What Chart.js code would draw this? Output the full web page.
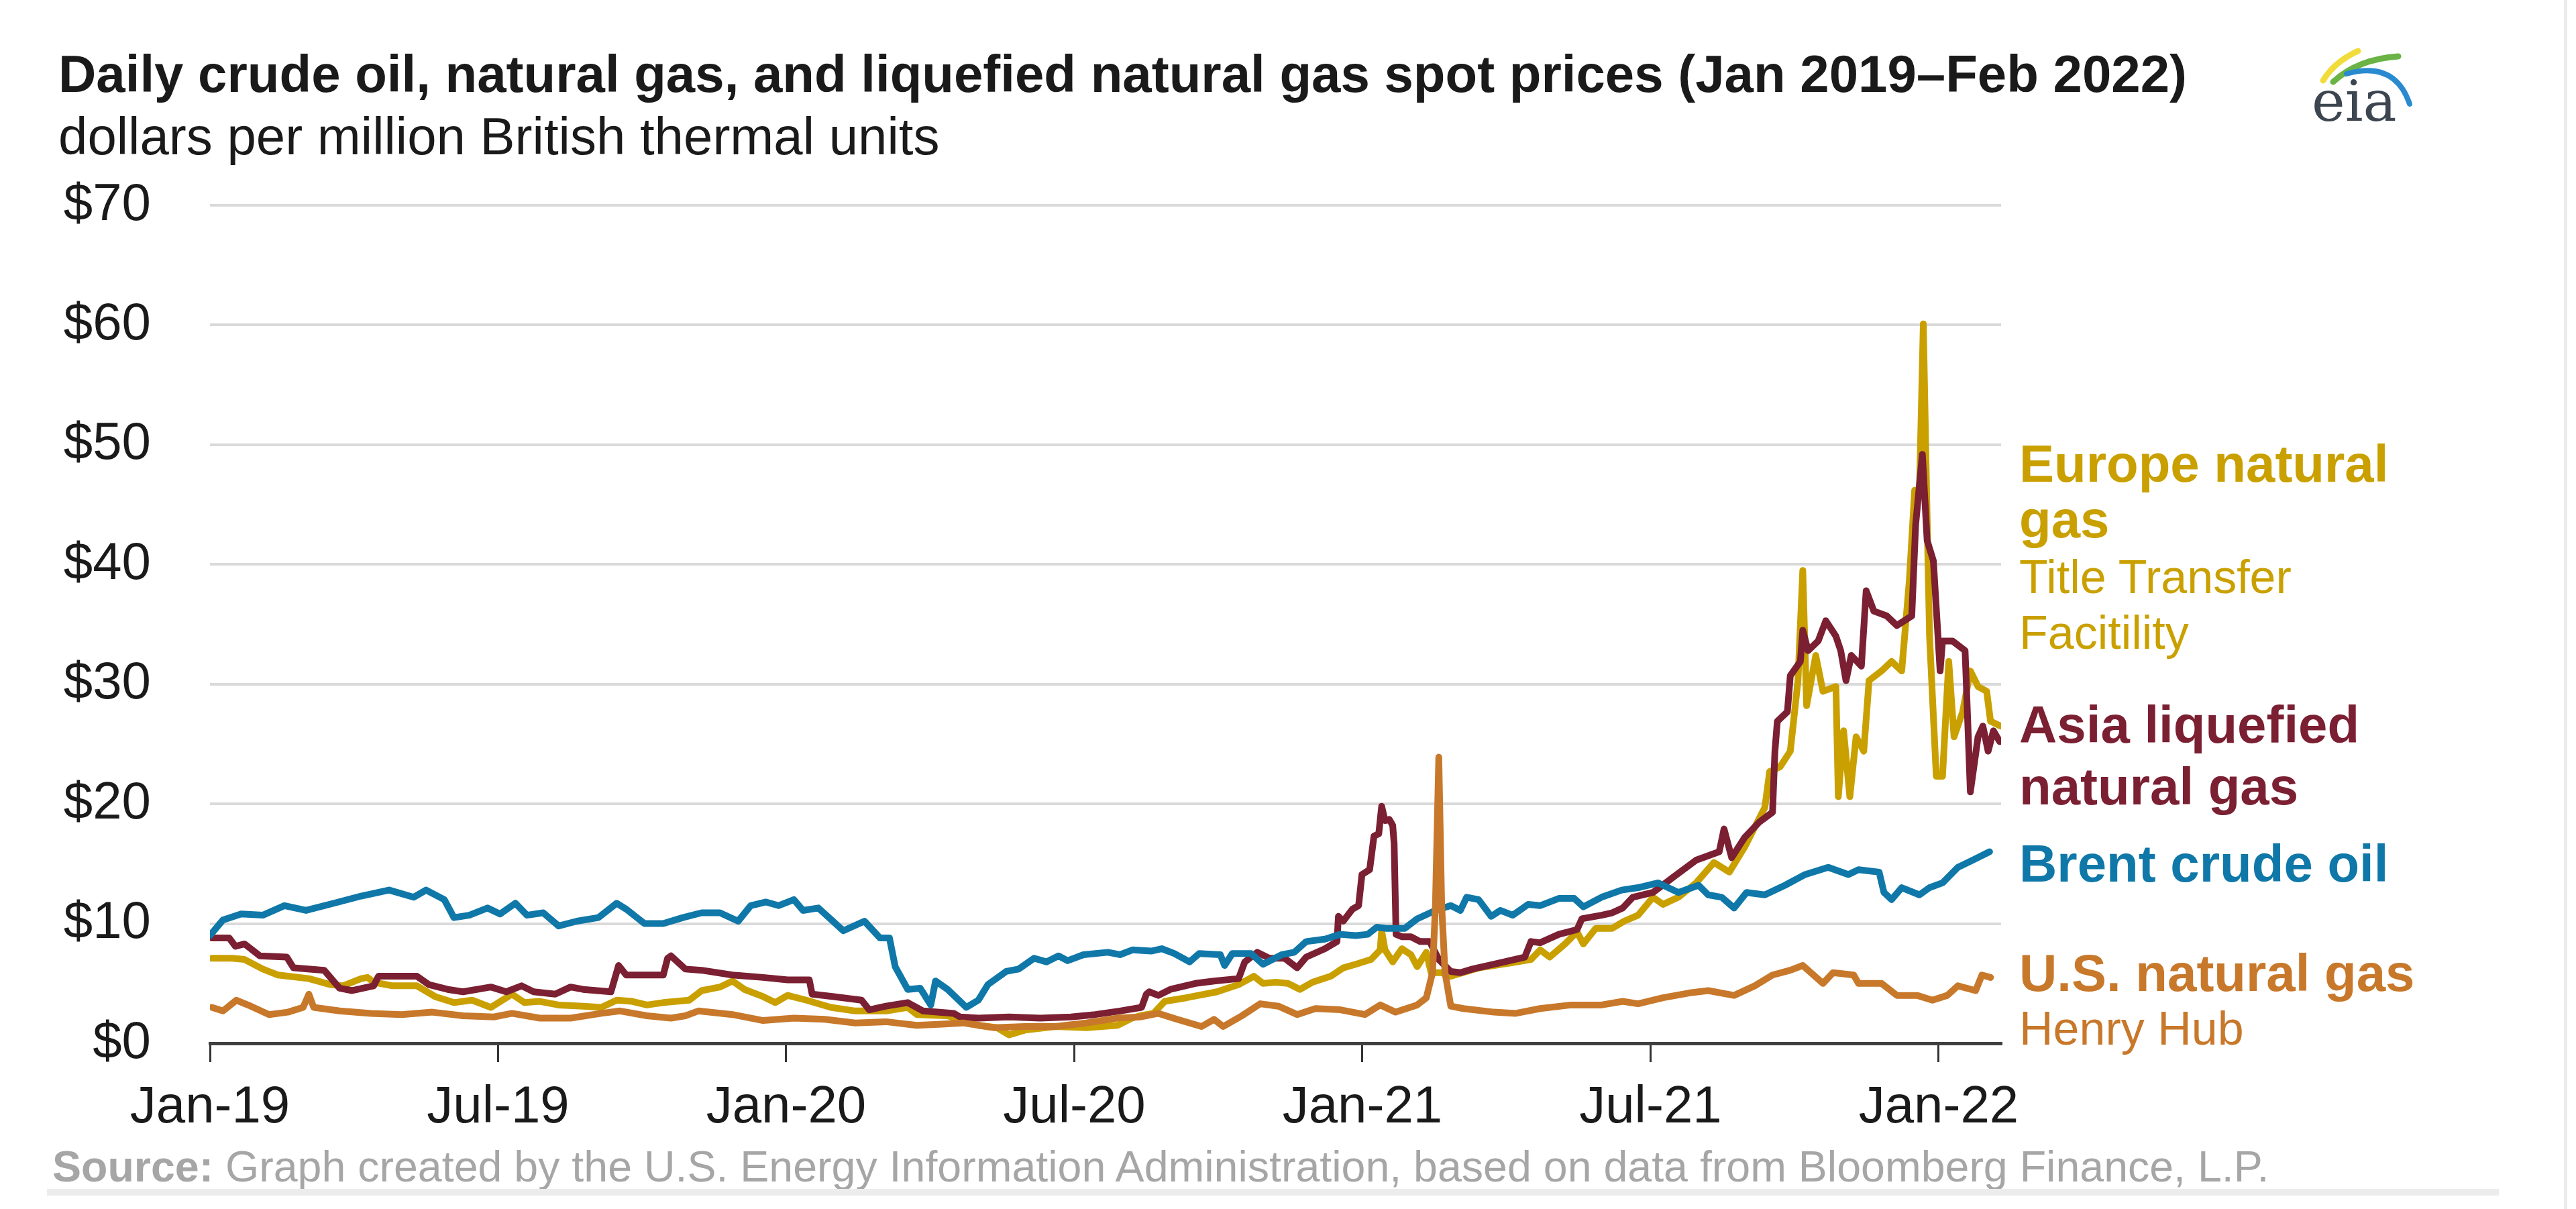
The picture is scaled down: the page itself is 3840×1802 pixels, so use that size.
<!DOCTYPE html>
<html>
<head>
<meta charset="utf-8">
<title>Daily crude oil, natural gas, and LNG spot prices</title>
<script src="https://cdn.jsdelivr.net/npm/chart.js@4.4.1/dist/chart.umd.min.js"></script>
<style>
    html, body { margin: 0; padding: 0; background: #fff; }
    body {
        width: 3840px; height: 1802px; position: relative; overflow: hidden;
        font-family: "Liberation Sans", Arial, sans-serif;
    }
    #chart { position: absolute; left: 0; top: 0; }
    .t { position: absolute; white-space: nowrap; line-height: 1; }
    .big { font-size: 78px; font-weight: bold; }
    .small { font-size: 70px; }
    .europe { color: #c9a000; }
    .asia { color: #7b1f32; }
    .brent { color: #0f78a8; }
    .us { color: #c8782a; }
</style>
</head>
<body>
<canvas id="chart" width="3840" height="1802"></canvas>

<div class="t" style="left:87px; top:71px; font-size:78px; font-weight:bold; color:#1a1a1a;">Daily crude oil, natural gas, and liquefied natural gas spot prices (Jan 2019–Feb 2022)</div>
<div class="t" style="left:87px; top:164px; font-size:78px; color:#1a1a1a;">dollars per million British thermal units</div>

<div class="t big europe" style="left:3010px; top:652px;">Europe natural</div>
<div class="t big europe" style="left:3010px; top:735px;">gas</div>
<div class="t small europe" style="left:3010px; top:825px;">Title Transfer</div>
<div class="t small europe" style="left:3010px; top:908px;">Facitility</div>
<div class="t big asia" style="left:3010px; top:1041px;">Asia liquefied</div>
<div class="t big asia" style="left:3010px; top:1133px;">natural gas</div>
<div class="t big brent" style="left:3010px; top:1248px;">Brent crude oil</div>
<div class="t big us" style="left:3010px; top:1411px;">U.S. natural gas</div>
<div class="t small us" style="left:3010px; top:1498px;">Henry Hub</div>

<div class="t" style="left:78px; top:1707px; font-size:64.5px; color:#a6a6a6;"><b>Source:</b> Graph created by the U.S. Energy Information Administration, based on data from Bloomberg Finance, L.P.</div>
<div style="position:absolute; left:70px; top:1772px; width:3655px; height:10px; background:#ececec;"></div>
<div style="position:absolute; left:3822px; top:0; width:5px; height:1802px; background:#ececec;"></div>

<svg style="position:absolute; left:3420px; top:50px;" width="200" height="150">
    <path d="M43 70 Q60 42 95 26" stroke="#f2dc3c" stroke-width="9" fill="none" stroke-linecap="round"/>
    <path d="M58 72 Q95 38 155 34" stroke="#6ab344" stroke-width="9" fill="none" stroke-linecap="round"/>
    <path d="M78 60 Q150 40 172 105" stroke="#2a8ad0" stroke-width="8" fill="none" stroke-linecap="round"/>
    <text x="26" y="130" font-family="DejaVu Serif, serif" font-size="84" fill="#3d4650">eia</text>
</svg>

<script>
// x values are months since Jan 2019 (0 = Jan-19, 36 = Jan-22)
const tickMonths = [0, 6, 12, 18, 24, 30, 36];
const tickLabels = ['Jan-19', 'Jul-19', 'Jan-20', 'Jul-20', 'Jan-21', 'Jul-21', 'Jan-22'];
const priceTicks = [0, 10, 20, 30, 40, 50, 60, 70];

// Brent crude oil
const brentMonths = [0, 0.27, 0.65, 1.1, 1.55, 2.0, 2.58, 3.15, 3.73, 4.24, 4.5, 4.88, 5.08, 5.4, 5.78, 6.04, 6.36, 6.6, 6.94, 7.26,
    7.64, 8.09, 8.47, 8.67, 9.05, 9.44, 9.85, 10.24, 10.62, 11.0, 11.26, 11.58, 11.84, 12.16, 12.35, 12.67, 13.19, 13.63, 13.95, 14.15,
    14.27, 14.53, 14.79, 15.01, 15.11, 15.36, 15.75, 16.0, 16.2, 16.58, 16.84, 17.16, 17.42, 17.67, 17.86, 18.19, 18.7, 18.95, 19.21, 19.6,
    19.82, 20.08, 20.4, 20.6, 21.04, 21.13, 21.29, 21.68, 21.93, 22.32, 22.58, 22.83, 23.22, 23.54, 23.86, 24.11, 24.3, 24.5, 24.88, 25.14,
    25.52, 25.84, 26.04, 26.17, 26.42, 26.68, 26.87, 27.13, 27.45, 27.7, 28.09, 28.41, 28.6, 28.98, 29.4, 29.74, 30.16, 30.58, 31.0, 31.2,
    31.48, 31.74, 32.0, 32.38, 32.8, 33.22, 33.7, 34.12, 34.33, 34.76, 34.86, 35.02, 35.23, 35.6, 35.81, 36.08, 36.4, 36.71, 37.06];
const brentPrices = [9.0, 10.3, 10.8, 10.7, 11.5, 11.1, 11.7, 12.3, 12.8, 12.2, 12.8, 12.0, 10.5, 10.7, 11.3, 10.8, 11.7, 10.7, 10.9, 9.8,
    10.2, 10.5, 11.7, 11.2, 10.0, 10.0, 10.5, 10.9, 10.9, 10.2, 11.5, 11.8, 11.5, 12.0, 11.1, 11.3, 9.4, 10.2, 8.8, 8.8,
    6.4, 4.5, 4.6, 3.2, 5.2, 4.5, 3.0, 3.6, 4.9, 6.0, 6.2, 7.1, 6.8, 7.3, 6.9, 7.4, 7.6, 7.4, 7.8, 7.7,
    7.9, 7.5, 6.8, 7.5, 7.4, 6.5, 7.5, 7.5, 6.6, 7.4, 7.6, 8.5, 8.7, 9.1, 9.0, 9.1, 9.7, 9.6, 9.6, 10.4,
    11.1, 11.5, 11.1, 12.2, 12.0, 10.6, 11.1, 10.7, 11.6, 11.5, 12.1, 12.1, 11.4, 12.2, 12.8, 13.0, 13.4, 12.6, 13.2, 12.4,
    12.2, 11.3, 12.6, 12.4, 13.2, 14.1, 14.7, 14.1, 14.5, 14.3, 12.6, 12.0, 13.0, 12.4, 13.0, 13.4, 14.7, 15.3, 16.0];

// Asia liquefied natural gas
const asiaMonths = [0.04, 0.4, 0.53, 0.72, 1.04, 1.6, 1.74, 2.38, 2.7, 2.96, 3.41, 3.51, 4.31, 4.56, 4.95, 5.27, 5.85, 6.17, 6.49, 6.74,
    7.19, 7.51, 7.77, 8.35, 8.51, 8.67, 9.44, 9.53, 9.6, 9.9, 10.24, 10.88, 11.52, 12.03, 12.48, 12.54, 12.99, 13.57, 13.73, 14.08,
    14.53, 14.85, 15.49, 15.62, 16.0, 16.64, 17.29, 17.93, 18.44, 18.95, 19.4, 19.5, 19.56, 19.75, 20.0, 20.52, 20.91, 21.42, 21.55, 21.81,
    22.06, 22.38, 22.64, 22.83, 23.22, 23.47, 23.5, 23.6, 23.79, 23.92, 23.99, 24.15, 24.24, 24.34, 24.4, 24.47, 24.56, 24.63, 24.66, 24.7,
    24.82, 25.01, 25.2, 25.4, 25.59, 25.84, 26.04, 26.29, 26.74, 27.38, 27.51, 27.7, 28.09, 28.47, 28.57, 28.98, 29.2, 29.42, 29.63, 30.05,
    30.48, 30.95, 31.43, 31.53, 31.69, 31.96, 32.27, 32.54, 32.59, 32.64, 32.85, 32.91, 33.12, 33.17, 33.28, 33.49, 33.65, 33.86, 33.96, 34.07,
    34.18, 34.39, 34.49, 34.65, 34.92, 35.13, 35.44, 35.52, 35.66, 35.76, 35.89, 36.03, 36.08, 36.29, 36.55, 36.66, 36.82, 36.92, 37.03, 37.14,
    37.27];
const asiaPrices = [8.8, 8.8, 8.1, 8.3, 7.3, 7.2, 6.3, 6.1, 4.6, 4.4, 4.8, 5.6, 5.6, 4.9, 4.5, 4.3, 4.7, 4.3, 4.8, 4.3,
    4.1, 4.7, 4.5, 4.3, 6.5, 5.7, 5.7, 7.1, 7.3, 6.2, 6.1, 5.7, 5.5, 5.3, 5.3, 4.1, 3.9, 3.6, 2.8, 3.1,
    3.4, 2.7, 2.5, 2.2, 2.1, 2.2, 2.1, 2.2, 2.4, 2.7, 3.0, 4.1, 4.3, 4.0, 4.5, 5.0, 5.2, 5.4, 6.8, 7.6,
    7.1, 7.1, 6.3, 7.2, 7.9, 8.5, 10.6, 10.2, 11.2, 11.5, 14.1, 14.5, 17.3, 17.5, 19.8, 18.6, 18.7, 18.2, 16.7, 9.1,
    8.9, 8.9, 8.5, 8.5, 7.0, 6.0, 5.9, 6.2, 6.6, 7.2, 8.5, 8.4, 9.1, 9.5, 10.4, 10.7, 10.9, 11.3, 12.2, 12.6,
    13.9, 15.3, 16.0, 17.9, 15.5, 17.2, 18.5, 19.3, 24.4, 26.9, 27.7, 30.7, 31.9, 34.5, 32.8, 33.6, 35.3, 34.0, 32.8, 30.3,
    32.4, 31.5, 37.8, 36.1, 35.7, 34.9, 35.7, 43.3, 49.2, 42.0, 40.3, 31.1, 33.6, 33.6, 32.8, 21.0, 25.6, 26.5, 24.4, 26.1,
    25.2];

// Europe natural gas (Title Transfer Facility)
const europeMonths = [0.04, 0.46, 0.72, 1.1, 1.42, 2.06, 2.51, 2.77, 3.15, 3.28, 3.41, 3.8, 4.31, 4.69, 5.08, 5.46, 5.85, 6.29, 6.55, 6.87,
    7.26, 7.77, 8.15, 8.47, 8.79, 9.1, 9.44, 9.98, 10.24, 10.62, 10.88, 11.13, 11.52, 11.77, 12.03, 12.42, 12.93, 13.44, 14.08, 14.53,
    14.72, 15.36, 16.0, 16.39, 16.64, 16.97, 17.61, 18.25, 18.9, 19.2, 19.37, 19.65, 19.88, 20.33, 20.97, 21.42, 21.74, 21.93, 22.19, 22.45,
    22.7, 22.96, 23.34, 23.6, 23.86, 24.18, 24.37, 24.4, 24.47, 24.63, 24.82, 25.01, 25.14, 25.33, 25.43, 25.65, 25.84, 26.42, 27.06, 27.51,
    27.7, 27.9, 28.22, 28.47, 28.6, 28.86, 29.2, 29.45, 29.74, 30.05, 30.26, 30.58, 30.95, 31.32, 31.64, 31.96, 32.38, 32.48, 32.7, 32.91,
    33.07, 33.17, 33.25, 33.44, 33.59, 33.86, 33.91, 34.02, 34.15, 34.28, 34.44, 34.55, 34.81, 35.02, 35.23, 35.39, 35.5, 35.6, 35.68, 35.76,
    35.81, 35.95, 36.08, 36.21, 36.32, 36.5, 36.66, 36.82, 37.0, 37.08, 37.29];
const europePrices = [7.1, 7.1, 7.0, 6.2, 5.7, 5.4, 4.9, 4.8, 5.4, 5.5, 5.1, 4.8, 4.8, 3.9, 3.4, 3.6, 3.0, 4.1, 3.4, 3.5,
    3.2, 3.1, 3.0, 3.6, 3.5, 3.2, 3.4, 3.6, 4.4, 4.7, 5.2, 4.5, 3.9, 3.4, 4.0, 3.6, 3.0, 2.7, 2.7, 3.0,
    2.4, 2.3, 1.5, 1.3, 0.7, 1.1, 1.4, 1.3, 1.5, 2.1, 2.3, 2.5, 3.5, 3.8, 4.3, 4.9, 5.6, 5.0, 5.1, 5.0,
    4.5, 5.1, 5.6, 6.3, 6.6, 7.0, 7.8, 9.4, 7.8, 6.8, 7.9, 7.4, 6.4, 7.6, 5.9, 5.9, 5.6, 6.3, 6.7, 7.0,
    7.8, 7.2, 8.3, 9.3, 8.3, 9.6, 9.6, 10.2, 10.7, 12.2, 11.6, 12.2, 13.4, 15.1, 14.3, 16.4, 19.7, 22.7, 23.1, 24.4,
    30.3, 39.5, 28.2, 32.4, 29.4, 29.8, 20.6, 26.1, 20.6, 25.6, 24.4, 30.3, 31.1, 31.9, 31.1, 38.7, 46.2, 46.2, 60.1, 43.7,
    34.0, 22.3, 22.3, 31.9, 25.6, 27.7, 31.1, 29.8, 29.4, 26.9, 26.5];

// U.S. natural gas (Henry Hub)
const usMonths = [0.04, 0.27, 0.55, 0.85, 1.23, 1.62, 1.94, 2.06, 2.16, 2.7, 3.35, 3.99, 4.63, 5.27, 5.91, 6.29, 6.87, 7.51, 8.15, 8.54,
    9.1, 9.6, 9.9, 10.17, 10.88, 11.52, 12.16, 12.8, 13.44, 14.08, 14.72, 15.24, 15.68, 16.33, 16.97, 17.61, 18.25, 18.9, 19.37, 19.75,
    20.14, 20.65, 20.91, 21.1, 21.49, 21.87, 22.25, 22.64, 23.02, 23.54, 24.05, 24.37, 24.69, 25.14, 25.33, 25.46, 25.52, 25.59, 25.65, 25.72,
    25.84, 26.1, 26.74, 27.19, 27.7, 28.34, 28.98, 29.42, 29.74, 30.26, 30.8, 31.2, 31.74, 32.17, 32.54, 32.91, 33.17, 33.59, 33.8, 34.23,
    34.33, 34.81, 35.13, 35.55, 35.87, 36.18, 36.4, 36.77, 36.9, 37.08];
const usPrices = [3.0, 2.7, 3.6, 3.1, 2.4, 2.6, 3.0, 4.1, 3.0, 2.7, 2.5, 2.4, 2.6, 2.3, 2.2, 2.5, 2.1, 2.1, 2.5, 2.7,
    2.3, 2.1, 2.3, 2.7, 2.4, 1.9, 2.1, 2.0, 1.7, 1.8, 1.5, 1.6, 1.7, 1.3, 1.4, 1.4, 1.7, 2.1, 2.2, 2.5,
    2.0, 1.4, 2.0, 1.4, 2.3, 3.3, 3.1, 2.4, 2.9, 2.8, 2.4, 3.2, 2.6, 3.2, 3.8, 5.9, 11.5, 23.9, 11.5, 5.9,
    3.1, 2.9, 2.6, 2.5, 2.9, 3.2, 3.2, 3.5, 3.3, 3.8, 4.2, 4.4, 4.0, 4.8, 5.7, 6.1, 6.5, 5.0, 5.9, 5.7,
    5.0, 5.0, 4.0, 4.0, 3.6, 4.0, 4.8, 4.4, 5.7, 5.5];

const tickFont = { family: '"Liberation Sans", Arial, sans-serif', size: 78 };

function makeSeries(label, months, prices, color) {
    return {
        label: label,
        data: months.map((m, i) => ({ x: m, y: prices[i] })),
        borderColor: color,
        backgroundColor: color,
        borderWidth: 10,
        borderJoinStyle: 'round',
        borderCapStyle: 'round',
        pointRadius: 0,
        tension: 0,
        fill: false
    };
}

const chart = new Chart(document.getElementById('chart'), {
    type: 'line',
    data: {
        // first dataset is drawn on top
        datasets: [
            makeSeries('U.S. natural gas', usMonths, usPrices, '#c8782a'),
            makeSeries('Brent crude oil', brentMonths, brentPrices, '#0f78a8'),
            makeSeries('Asia liquefied natural gas', asiaMonths, asiaPrices, '#7b1f32'),
            makeSeries('Europe natural gas', europeMonths, europePrices, '#c9a000')
        ]
    },
    options: {
        responsive: false,
        animation: false,
        devicePixelRatio: 1,
        layout: { padding: { left: 0, right: 857, top: 306, bottom: 0 } },
        plugins: {
            legend: { display: false },
            tooltip: { enabled: false }
        },
        scales: {
            x: {
                type: 'linear',
                min: 0,
                max: 37.3,
                afterFit: function(scale) { scale.height = 247; },
                afterBuildTicks: function(scale) {
                    scale.ticks = tickMonths.map(v => ({ value: v }));
                },
                ticks: {
                    autoSkip: false,
                    maxRotation: 0,
                    padding: 22,
                    color: '#1a1a1a',
                    font: tickFont,
                    callback: function(value, index) { return tickLabels[index]; }
                },
                grid: {
                    drawOnChartArea: false,
                    drawTicks: true,
                    tickLength: 28,
                    lineWidth: 3,
                    color: '#333333'
                },
                border: { display: true, color: '#404040', width: 5 }
            },
            y: {
                min: 0,
                max: 70,
                afterFit: function(scale) { scale.width = 313; },
                afterBuildTicks: function(scale) {
                    scale.ticks = priceTicks.map(v => ({ value: v }));
                },
                ticks: {
                    padding: 88,
                    color: '#1a1a1a',
                    font: tickFont,
                    callback: function(value) { return '$' + value; }
                },
                grid: {
                    drawTicks: false,
                    lineWidth: 4,
                    color: function(c) { return c.tick && c.tick.value === 0 ? 'rgba(0,0,0,0)' : '#dadada'; }
                },
                border: { display: false }
            }
        }
    }
});
</script>
</body>
</html>
